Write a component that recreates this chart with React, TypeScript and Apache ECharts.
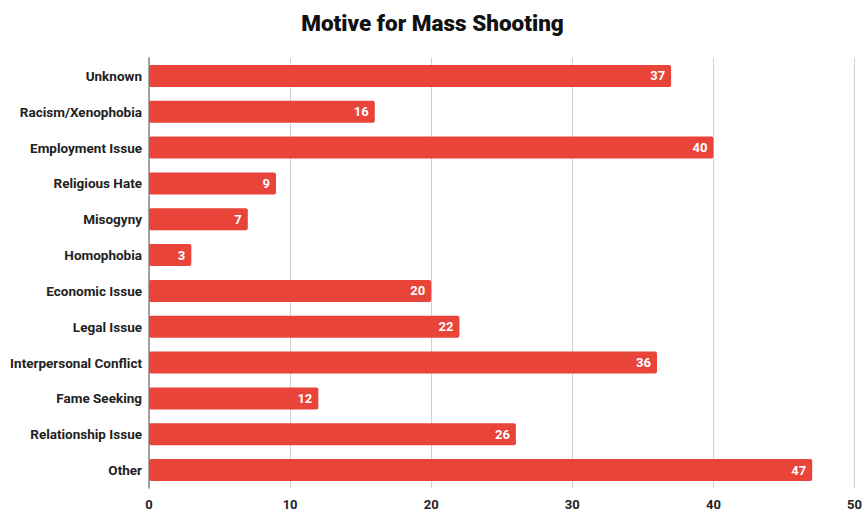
import React, { useEffect, useRef } from "react";
import * as echarts from "echarts";

const categories = [
  "Unknown",
  "Racism/Xenophobia",
  "Employment Issue",
  "Religious Hate",
  "Misogyny",
  "Homophobia",
  "Economic Issue",
  "Legal Issue",
  "Interpersonal Conflict",
  "Fame Seeking",
  "Relationship Issue",
  "Other",
];
const values = [37, 16, 40, 9, 7, 3, 20, 22, 36, 12, 26, 47];
const xTicks = { min: 0, max: 50, interval: 10 };

export default function App() {
  const ref = useRef<HTMLDivElement>(null);
  useEffect(() => {
    if (!ref.current) return;
    const chart = echarts.init(ref.current, undefined, { renderer: "svg" });
    chart.setOption({
      animation: false,
      title: {
        text: "Motive for Mass Shooting",
        left: "center",
        top: 6,
        textStyle: { fontFamily: "Roboto", fontWeight: 900, fontSize: 22.5, color: "#111" },
      },
      grid: { left: 149, right: 4, top: 58, bottom: 24, containLabel: false },
      xAxis: {
        type: "value",
        min: xTicks.min,
        max: xTicks.max,
        interval: xTicks.interval,
        axisLine: { show: false },
        axisTick: { show: false },
        splitLine: { show: true, lineStyle: { color: "#d0d0d0", width: 1 } },
        axisLabel: {
          margin: 10,
          fontFamily: "Roboto",
          fontWeight: "bold",
          fontSize: 13,
          color: "#222",
        },
      },
      yAxis: {
        type: "category",
        data: categories,
        inverse: true,
        axisLine: { show: true, lineStyle: { color: "#888", width: 1.5 } },
        axisTick: { show: false },
        axisLabel: {
          margin: 7,
          fontFamily: "Roboto",
          fontWeight: "bold",
          fontSize: 13.5,
          color: "#222",
        },
      },
      series: [
        {
          type: "bar",
          data: values,
          barWidth: 22,
          itemStyle: { color: "#e8443a", borderRadius: 2 },
          label: {
            show: true,
            position: "insideRight",
            distance: 6,
            color: "#fff",
            fontFamily: "Roboto",
            fontWeight: "bold",
            fontSize: 13,
          },
        },
      ],
    });
    return () => chart.dispose();
  }, []);
  return <div ref={ref} style={{ width: 865, height: 512, position: "absolute", left: 0, top: 0 }} />;
}
